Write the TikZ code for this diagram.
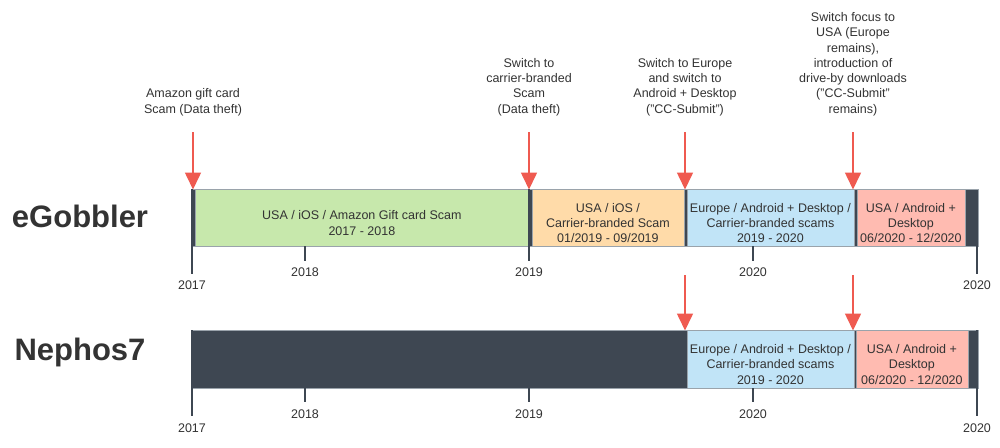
\documentclass[tikz,border=0pt]{standalone}
\usepackage{fontspec}
\setmainfont{Liberation Sans}
\usetikzlibrary{arrows.meta,positioning,calc}
\definecolor{dark}{HTML}{3E4752}
\definecolor{txt}{HTML}{333333}
\definecolor{redc}{HTML}{EF5A50}
\definecolor{greenc}{HTML}{C7E8AC}
\definecolor{orangec}{HTML}{FFDBA9}
\definecolor{bluec}{HTML}{C1E4F7}
\definecolor{pinkc}{HTML}{FFBBB1}
\definecolor{edgec}{HTML}{9AA3AB}
\tikzset{
  darkbar/.style={fill=dark, draw=edgec, line width=0.8pt, anchor=north west, inner sep=0pt},
  phase/.style={draw=edgec, line width=0.8pt, anchor=north west, inner sep=0pt},
  boxtxt/.style={text=txt, font=\fontsize{12.5}{15.3}\selectfont, align=center, inner sep=0pt},
  note/.style={text=txt, font=\fontsize{12.5}{15.3}\selectfont, align=center, inner sep=0pt, anchor=south},
  year/.style={text=txt, font=\fontsize{12.5}{15}\selectfont, inner sep=1pt},
  tick/.style={draw=dark, line width=1.5pt},
  redarrow/.style={draw=redc, line width=1.6pt, -{Triangle[length=17pt,width=16pt]}, shorten >=-0.5pt},
  title/.style={text=txt, font=\fontsize{31}{36}\selectfont\bfseries, inner sep=0pt}
}
\begin{document}
\begin{tikzpicture}[x=1pt,y=-1pt]
\useasboundingbox (0,0) rectangle (1000,447);
\fill[white] (0,0) rectangle (1000,447);

% ---------- eGobbler ----------
\node[title] (t1) at (80,216) {eGobbler};
\node[darkbar, minimum width=787pt, minimum height=57pt] (bar1) at (191,189) {};
\node[phase, fill=greenc, minimum width=334pt, minimum height=57pt] (g1) at (194.5,189) {};
\node[phase, fill=orangec, minimum width=152pt, minimum height=57pt] (o1) at (531.5,189) {};
\node[phase, fill=bluec, minimum width=167pt, minimum height=57pt] (b1) at (686.5,189) {};
\node[phase, fill=pinkc, minimum width=108pt, minimum height=57pt] (p1) at (856.5,189) {};

\node[boxtxt] (g1t) at ([yshift=-5pt]g1.center) {USA / iOS / Amazon Gift card Scam\\2017 - 2018};
\node[boxtxt] (o1t) at ([yshift=-5pt]o1.center) {USA / iOS /\\Carrier-branded Scam\\01/2019 - 09/2019};
\node[boxtxt] (b1t) at ([yshift=-5pt]b1.center) {Europe / Android + Desktop /\\Carrier-branded scams\\2019 - 2020};
\node[boxtxt] (p1t) at ([yshift=-5pt]p1.center) {USA / Android +\\Desktop\\06/2020 - 12/2020};

% year ticks top
\node[year] (ya17) at (192,285) {2017};
\node[year] (ya18) at (305,272) {2018};
\node[year] (ya19) at (529,272) {2019};
\node[year] (ya20) at (753,272) {2020};
\node[year] (ya20b) at (977,285) {2020};
\draw[tick] (192,189) -- (192,274);
\draw[tick] (305,246) -- (305,261);
\draw[tick] (529,189) -- (529,261);
\draw[tick] (753,246) -- (753,261);
\draw[tick] (977,246) -- (977,274);

% notes and arrows top
\node[note] (n1) at (193,116) {Amazon gift card\\Scam (Data theft)};
\node[note] (n2) at (529,116) {Switch to\\carrier-branded\\Scam\\(Data theft)};
\node[note] (n3) at (685,116) {Switch to Europe\\and switch to\\Android + Desktop\\("CC-Submit")};
\node[note] (n4) at (853,116) {Switch focus to\\USA (Europe\\remains),\\introduction of\\drive-by downloads\\("CC-Submit"\\remains)};
\coordinate (a1s) at (193,132);
\coordinate (a2s) at (529,132);
\coordinate (a3s) at (685,132);
\coordinate (a4s) at (853,132);
\draw[redarrow] (a1s) -- (a1s |- bar1.north);
\draw[redarrow] (a2s) -- (a2s |- bar1.north);
\draw[redarrow] (a3s) -- (a3s |- bar1.north);
\draw[redarrow] (a4s) -- (a4s |- bar1.north);

% ---------- Nephos7 ----------
\node[title] (t2) at (80,352) {Nephos7};
\node[darkbar, minimum width=787pt, minimum height=58pt] (bar2) at (191,330) {};
\node[phase, fill=bluec, minimum width=167pt, minimum height=58pt] (b2) at (686.5,330) {};
\node[phase, fill=pinkc, minimum width=112pt, minimum height=58pt] (p2) at (855.5,330) {};
\node[boxtxt] (b2t) at ([yshift=-5pt]b2.center) {Europe / Android + Desktop /\\Carrier-branded scams\\2019 - 2020};
\node[boxtxt] (p2t) at ([yshift=-5pt]p2.center) {USA / Android +\\Desktop\\06/2020 - 12/2020};

\node[year] (yb17) at (192,428) {2017};
\node[year] (yb18) at (305,414) {2018};
\node[year] (yb19) at (529,414) {2019};
\node[year] (yb20) at (753,414) {2020};
\node[year] (yb20b) at (977,428) {2020};
\draw[tick] (192,330) -- (192,416);
\draw[tick] (305,388) -- (305,402);
\draw[tick] (529,388) -- (529,402);
\draw[tick] (753,388) -- (753,402);
\draw[tick] (977,330) -- (977,416);

\coordinate (a5s) at (685,275);
\coordinate (a6s) at (853,275);
\draw[redarrow] (a5s) -- (a5s |- bar2.north);
\draw[redarrow] (a6s) -- (a6s |- bar2.north);
\end{tikzpicture}
\end{document}
